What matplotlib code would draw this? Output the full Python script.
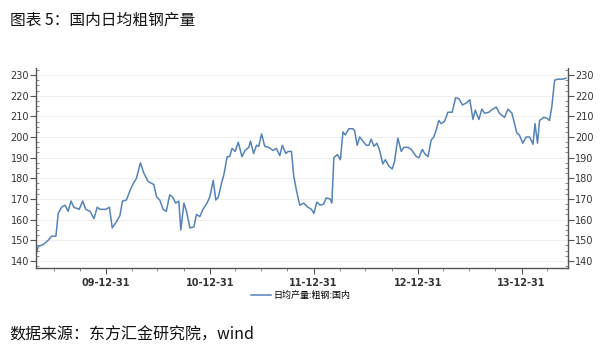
import matplotlib
matplotlib.use("Agg")
import matplotlib.pyplot as plt
import matplotlib.dates as mdates
from matplotlib.ticker import MultipleLocator
import pandas as pd

plt.rcParams['font.family'] = ['Noto Sans CJK SC', 'DejaVu Sans']

# 日均产量:粗钢:国内 (万吨)
dates = [
    "2009-04-29", "2009-05-07", "2009-05-25", "2009-06-11", "2009-06-23", "2009-07-08",
    "2009-07-16", "2009-07-28", "2009-08-09", "2009-08-20", "2009-08-30", "2009-09-09",
    "2009-09-28", "2009-10-10", "2009-10-21", "2009-11-05", "2009-11-19", "2009-11-30",
    "2009-12-10", "2009-12-31", "2010-01-12", "2010-01-22", "2010-02-06", "2010-02-18",
    "2010-02-27", "2010-03-13", "2010-03-25", "2010-04-06", "2010-04-17", "2010-05-01",
    "2010-05-13", "2010-05-28", "2010-06-17", "2010-06-27", "2010-07-08", "2010-07-20",
    "2010-07-31", "2010-08-12", "2010-08-22", "2010-09-02", "2010-09-13", "2010-09-20",
    "2010-10-01", "2010-10-10", "2010-10-22", "2010-11-05", "2010-11-14", "2010-11-26",
    "2010-12-07", "2010-12-21", "2010-12-31", "2011-01-12", "2011-01-21", "2011-01-30",
    "2011-02-10", "2011-02-18", "2011-03-02", "2011-03-11", "2011-03-19", "2011-03-30",
    "2011-04-10", "2011-04-23", "2011-05-04", "2011-05-17", "2011-05-23", "2011-06-03",
    "2011-06-13", "2011-06-21", "2011-07-01", "2011-07-12", "2011-07-26", "2011-08-10",
    "2011-08-22", "2011-09-03", "2011-09-12", "2011-09-24", "2011-10-02", "2011-10-14",
    "2011-10-22", "2011-10-31", "2011-11-12", "2011-11-26", "2011-12-11", "2011-12-23",
    "2012-01-01", "2012-01-11", "2012-01-23", "2012-02-04", "2012-02-13", "2012-02-27",
    "2012-03-04", "2012-03-11", "2012-03-23", "2012-04-03", "2012-04-12", "2012-04-20",
    "2012-05-03", "2012-05-17", "2012-05-23", "2012-06-01", "2012-06-10", "2012-06-21",
    "2012-07-03", "2012-07-12", "2012-07-20", "2012-07-30", "2012-08-09", "2012-08-18",
    "2012-08-30", "2012-09-08", "2012-09-20", "2012-10-02", "2012-10-10", "2012-10-22",
    "2012-11-03", "2012-11-12", "2012-11-26", "2012-12-08", "2012-12-26", "2013-01-04",
    "2013-01-16", "2013-01-24", "2013-02-05", "2013-02-16", "2013-02-25", "2013-03-06",
    "2013-03-15", "2013-03-23", "2013-04-04", "2013-04-16", "2013-05-01", "2013-05-13",
    "2013-05-25", "2013-06-06", "2013-06-20", "2013-07-02", "2013-07-13", "2013-07-21",
    "2013-08-03", "2013-08-13", "2013-08-23", "2013-09-07", "2013-09-15", "2013-10-03",
    "2013-10-14", "2013-11-01", "2013-11-13", "2013-11-27", "2013-12-06", "2013-12-14",
    "2013-12-23", "2014-01-04", "2014-01-16", "2014-01-28", "2014-02-09", "2014-02-16",
    "2014-02-25", "2014-03-04", "2014-03-19", "2014-03-31", "2014-04-08", "2014-04-16",
    "2014-04-26", "2014-05-07", "2014-05-25", "2014-06-05",
]
output = [
    143, 147, 148, 150, 152, 152,
    163, 166, 167, 164, 169, 166,
    165, 169, 165, 164, 160.5, 166,
    165, 165, 166, 156, 159, 162,
    169, 169.5, 174, 177.5, 180, 187.5,
    182.5, 178.5, 177, 171, 169.5, 165,
    164, 172, 171, 168, 169, 155,
    168, 164, 156, 156.5, 162.5, 161.5,
    165, 168, 171, 179, 169.5, 171,
    177.5, 181.5, 190.5, 190.5, 194.5, 193,
    197.5, 190.5, 193.5, 195, 198, 192,
    196, 195.5, 201.5, 195.5, 195, 193.5,
    194.5, 191, 196, 192, 193, 193,
    181, 174.5, 167, 168, 166, 165,
    163, 168.5, 167, 167.5, 170.5, 170,
    168, 190, 191.5, 189, 202.5, 201,
    204, 204, 203, 196, 200, 198,
    196, 196, 199, 195.5, 197, 194,
    187, 189, 186, 184.5, 188, 199.5,
    193, 195, 195, 194, 190.5, 190,
    194, 192, 190.5, 198.5, 200, 203.5,
    208, 206.5, 207.5, 212, 212, 219,
    218.5, 215.5, 216.5, 218, 208.5, 213,
    208.5, 213.5, 211.5, 212, 213, 214.5,
    211.5, 209.5, 213.5, 211.5, 206.5, 202,
    201, 197, 200, 200, 196.5, 206.5,
    197, 208, 209.5, 209, 208, 214.5,
    227.5, 228, 228, 228.5,
]
series_name = "日均产量:粗钢:国内"
title = "图表 5：国内日均粗钢产量"
source = "数据来源：东方汇金研究院，wind"

x = pd.to_datetime(dates)

fig = plt.figure(figsize=(6.02, 3.59), dpi=100)
ax = fig.add_axes([0.0598, 0.2535, 0.8837, 0.5571])

ax.plot(x, output, color='#5583b8', linewidth=1.1, label=series_name)

ax.set_ylim(136.6, 233.4)
ax.set_xlim(pd.Timestamp("2009-04-29"), pd.Timestamp("2014-06-12"))
ax.yaxis.set_major_locator(MultipleLocator(10))
ax.yaxis.set_minor_locator(MultipleLocator(2.5))
ax.grid(axis='y', color='#efefef', linewidth=0.7)
ax.set_axisbelow(True)

ax.xaxis.set_major_locator(mdates.YearLocator(base=1, month=12, day=31))
ax.xaxis.set_minor_locator(mdates.MonthLocator(bymonth=[3, 6, 9, 12], bymonthday=-1))
ax.xaxis.set_major_formatter(mdates.DateFormatter('%y-%m-%d'))

ax.spines['top'].set_visible(False)
for side in ['left', 'right', 'bottom']:
    ax.spines[side].set_color('#555555')
    ax.spines[side].set_linewidth(1.0)

ax.tick_params(axis='y', which='major', direction='out', length=4, color='#555555',
               labelsize=7, labelcolor='#333333', left=True, right=True,
               labelleft=True, labelright=True, pad=1)
ax.tick_params(axis='y', which='minor', direction='in', length=2.5, color='#777777',
               left=True, right=True)
ax.tick_params(axis='x', which='major', direction='out', length=4, color='#555555',
               labelsize=7, labelcolor='#333333', pad=3)
ax.tick_params(axis='x', which='minor', direction='out', length=2.5, color='#777777')
for lbl in ax.get_xticklabels():
    lbl.set_fontweight('bold')
    lbl.set_family('DejaVu Sans')
for lbl in ax.get_yticklabels():
    lbl.set_family('DejaVu Sans')

fig.legend(loc='center', bbox_to_anchor=(0.5, 0.178), frameon=False,
           fontsize=6.5, handlelength=2.2, handletextpad=0.3)

fig.text(0.016, 0.944, title, fontsize=11.3, va='center', ha='left', color='#111111')
fig.text(0.016, 0.067, source, fontsize=11.5, va='center', ha='left', color='#111111')

fig.savefig("out.png", dpi=100)
